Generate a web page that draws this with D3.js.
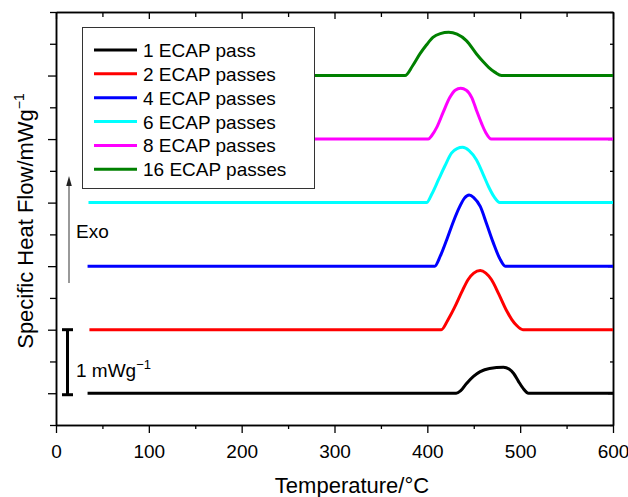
<!DOCTYPE html>
<html>
<head>
<meta charset="utf-8">
<script src="https://cdn.jsdelivr.net/npm/d3@7"></script>
<style>
  body { margin: 0; background: #fff; }
  svg text { font-family: "Liberation Sans", Arial, sans-serif; fill: #000; }
</style>
</head>
<body>
<svg id="chart" width="628" height="497"></svg>
<script>
// DSC curves, values: [temperature °C, heat flow above baseline mW/g]
const seriesNames = ["1 ECAP pass", "2 ECAP passes", "4 ECAP passes", "6 ECAP passes", "8 ECAP passes", "16 ECAP passes"];
const seriesColors = ["#000000", "#ff0000", "#0000ff", "#00ffff", "#ff00ff", "#008000"];
const baselines = [0.5, 1.5, 2.5, 3.5, 4.5, 5.5];

const pass1 = [[34, 0], [431, 0], [436, 0.04], [442, 0.15], [450, 0.27], [457, 0.34], [467, 0.39], [482, 0.41],
  [488, 0.38], [493, 0.31], [498, 0.19], [503, 0.08], [509, 0], [600, 0]];
const pass2 = [[36, 0], [415, 0], [422, 0.15], [430, 0.37], [437, 0.59], [444, 0.79], [450, 0.89], [457, 0.93],
  [463, 0.89], [469, 0.79], [477, 0.56], [485, 0.31], [491, 0.16], [496, 0.07], [503, 0], [600, 0]];
const pass4 = [[34, 0], [408, 0], [414, 0.16], [421, 0.42], [428, 0.70], [435, 0.94], [440, 1.07], [445, 1.12],
  [450, 1.08], [457, 0.94], [464, 0.66], [471, 0.37], [478, 0.12], [484, 0], [600, 0]];
const pass6 = [[35, 0], [399, 0], [405, 0.14], [412, 0.36], [419, 0.58], [426, 0.78], [432, 0.85], [438, 0.87],
  [445, 0.82], [453, 0.67], [460, 0.45], [466, 0.25], [472, 0.09], [478, 0], [600, 0]];
const pass8 = [[35, 0], [401, 0], [405, 0.06], [410, 0.18], [417, 0.42], [424, 0.65], [430, 0.77], [436, 0.80],
  [442, 0.77], [448, 0.65], [453, 0.45], [458.6, 0.24], [463, 0.1], [469, 0], [600, 0]];
const pass16 = [[35, 0], [376, 0], [384, 0.15], [392, 0.34], [399, 0.48], [406, 0.6], [414, 0.66], [423, 0.68],
  [432, 0.65], [442, 0.55], [453, 0.34], [460, 0.22], [466, 0.13], [473, 0.05], [480, 0], [600, 0]];
const seriesData = [pass1, pass2, pass4, pass6, pass8, pass16];

const xMajorTicks = [0, 100, 200, 300, 400, 500, 600];
const xMinorTicks = [50, 150, 250, 350, 450, 550];
const yMajorTicks = [0.5, 1.5, 2.5, 3.5, 4.5, 5.5];
const yMinorTicks = [0, 1, 2, 3, 4, 5, 6, 6.5];

const scaleBar = [0.5, 1.5]; // 1 mW/g

const svg = d3.select("#chart");
svg.append("rect").attr("width", 628).attr("height", 497).attr("fill", "#fff");

const x = d3.scaleLinear([0, 600], [56, 613]);
const y = d3.scaleLinear([0, 6.5], [425, 12]);

// Axes
function styleAxis(g) {
  g.select(".domain").attr("stroke", "#000").attr("stroke-width", 1.5);
  g.selectAll(".tick line").attr("stroke", "#000").attr("stroke-width", 1.3);
}

svg.append("g")
  .attr("transform", `translate(0,${y(0)})`)
  .call(d3.axisBottom(x).tickValues(xMajorTicks).tickSize(8).tickSizeOuter(0).tickPadding(12))
  .call(styleAxis)
  .call((g) => g.selectAll("text").style("font-size", "19px"));

svg.append("g")
  .attr("transform", `translate(0,${y(0)})`)
  .call(d3.axisBottom(x).tickValues(xMinorTicks).tickSize(4).tickSizeOuter(0).tickFormat(""))
  .call(styleAxis);

// top axis, ticks inward
svg.append("g")
  .attr("transform", `translate(0,${y(6.5)})`)
  .call(d3.axisBottom(x).tickValues(xMajorTicks).tickSize(7).tickSizeOuter(0).tickFormat(""))
  .call(styleAxis);
svg.append("g")
  .attr("transform", `translate(0,${y(6.5)})`)
  .call(d3.axisBottom(x).tickValues(xMinorTicks).tickSize(5).tickSizeOuter(0).tickFormat(""))
  .call(styleAxis);

// left axis, no labels
svg.append("g")
  .attr("transform", `translate(${x(0)},0)`)
  .call(d3.axisLeft(y).tickValues(yMajorTicks).tickSize(8).tickSizeOuter(0).tickFormat(""))
  .call(styleAxis);
svg.append("g")
  .attr("transform", `translate(${x(0)},0)`)
  .call(d3.axisLeft(y).tickValues(yMinorTicks).tickSize(6).tickSizeOuter(0).tickFormat(""))
  .call(styleAxis);

// right axis, ticks inward
svg.append("g")
  .attr("transform", `translate(${x(600)},0)`)
  .call(d3.axisLeft(y).tickValues(yMajorTicks).tickSize(5).tickSizeOuter(0).tickFormat(""))
  .call(styleAxis);
svg.append("g")
  .attr("transform", `translate(${x(600)},0)`)
  .call(d3.axisLeft(y).tickValues(yMinorTicks).tickSize(3).tickSizeOuter(0).tickFormat(""))
  .call(styleAxis);

// Curves
const line = d3.line()
  .x((d) => x(d[0]))
  .y((d) => d[1])
  .curve(d3.curveMonotoneX);

seriesData.forEach((pts, i) => {
  svg.append("path")
    .datum(pts.map((p) => [p[0], y(baselines[i] + p[1])]))
    .attr("fill", "none")
    .attr("stroke", seriesColors[i])
    .attr("stroke-width", 3)
    .attr("stroke-linejoin", "round")
    .attr("d", line);
});

// Legend
const legend = svg.append("g");
legend.append("rect")
  .attr("x", 82.5).attr("y", 27.5)
  .attr("width", 232).attr("height", 161)
  .attr("fill", "#fff")
  .attr("stroke", "#333")
  .attr("stroke-width", 1);

seriesNames.forEach((name, i) => {
  const ly = 50 + i * 23.85;
  legend.append("line")
    .attr("x1", 94).attr("x2", 137)
    .attr("y1", ly).attr("y2", ly)
    .attr("stroke", seriesColors[i])
    .attr("stroke-width", 3);
  legend.append("text")
    .attr("x", 143).attr("y", ly + 7)
    .style("font-size", "19px")
    .text(name);
});

// Exo arrow
svg.append("line")
  .attr("x1", 69).attr("x2", 69)
  .attr("y1", 283).attr("y2", 184)
  .attr("stroke", "#555").attr("stroke-width", 1.2);
svg.append("path")
  .attr("d", "M69,176 L66.2,186 L71.8,186 Z")
  .attr("fill", "#222");
svg.append("text")
  .attr("x", 76).attr("y", 238)
  .style("font-size", "19px")
  .text("Exo");

// 1 mW/g scale bar
const sb = svg.append("g").attr("stroke", "#000").attr("stroke-width", 3);
sb.append("line").attr("x1", 67.5).attr("x2", 67.5).attr("y1", y(scaleBar[0]) + 1.5).attr("y2", y(scaleBar[1]));
sb.append("line").attr("x1", 62).attr("x2", 73).attr("y1", y(scaleBar[0]) + 1.5).attr("y2", y(scaleBar[0]) + 1.5);
sb.append("line").attr("x1", 62).attr("x2", 73).attr("y1", y(scaleBar[1])).attr("y2", y(scaleBar[1]));

const sbText = svg.append("text")
  .attr("x", 76).attr("y", 377)
  .style("font-size", "19px");
sbText.append("tspan").text("1 mWg");
sbText.append("tspan").attr("dy", -8).style("font-size", "13px").text("\u22121");

// Axis titles
svg.append("text")
  .attr("x", 352).attr("y", 493)
  .attr("text-anchor", "middle")
  .style("font-size", "22px")
  .text("Temperature/\u00B0C");

const yTitle = svg.append("text")
  .attr("text-anchor", "middle")
  .attr("transform", "translate(33,221) rotate(-90)")
  .style("font-size", "22px");
yTitle.append("tspan").text("Specific Heat Flow/mWg");
yTitle.append("tspan").attr("dy", -9).style("font-size", "14px").text("\u22121");
</script>
</body>
</html>
